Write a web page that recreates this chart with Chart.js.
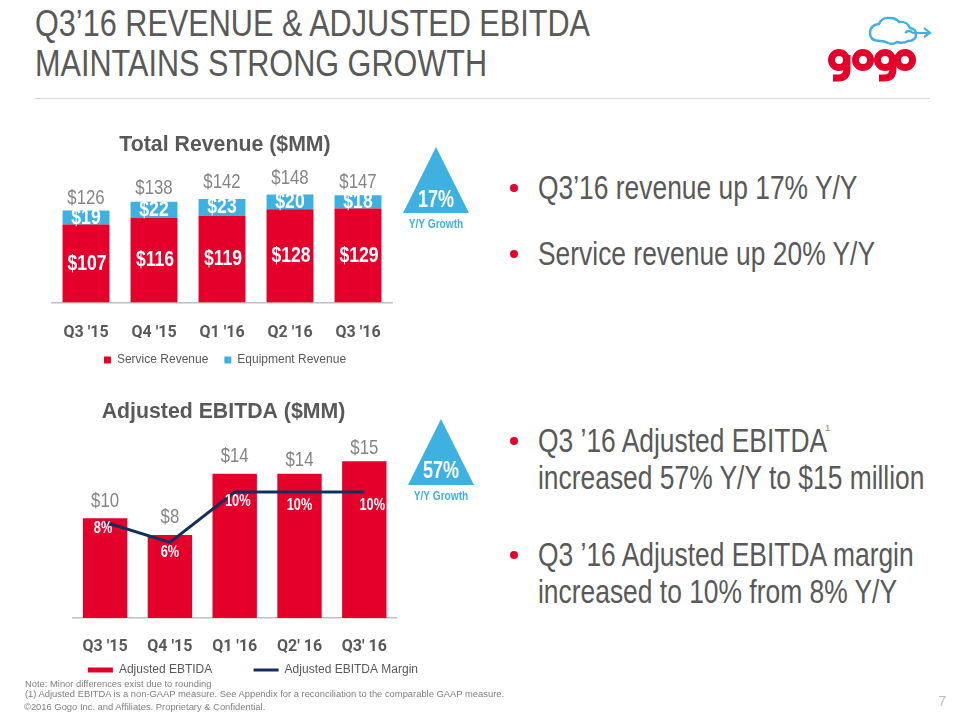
<!DOCTYPE html>
<html>
<head>
<meta charset="utf-8">
<script src="https://cdn.jsdelivr.net/npm/chart.js@4"></script>
<style>
  html, body { margin: 0; padding: 0; background: #fff; }
  #page { position: relative; width: 960px; height: 720px; overflow: hidden; font-family: "Liberation Sans", Arial, sans-serif; color: #595959; }
  #page div, #page canvas, #page svg { position: absolute; }
  .head { left: 35px; font-size: 36px; line-height: 40px; white-space: nowrap; color: #595959; transform: scaleX(0.851); transform-origin: 0 0; }
  .bullet { left: 538px; font-size: 33px; line-height: 38px; white-space: nowrap; color: #595959; transform: scaleX(0.8); transform-origin: 0 0; }
  .dot { left: 510px; width: 8px; height: 8px; border-radius: 50%; background: #e4002b; }
  .foot { font-size: 9.4px; line-height: 12px; white-space: nowrap; color: #7f7f7f; }
  .tri { font-weight: bold; text-align: center; width: 80px; transform: scaleX(0.75); }
</style>
</head>
<body>
<div id="page">
  <div class="head" style="top:4px">Q3’16 REVENUE &amp; ADJUSTED EBITDA</div>
  <div class="head" style="top:44px">MAINTAINS STRONG GROWTH</div>
  <div style="left:35px;top:98px;width:895px;height:1px;background:#d9d9d9"></div>

  <svg style="left:820px;top:10px" width="120" height="80" viewBox="820 10 120 80">
    <path d="M880 41 q-10 0 -10 -8 q0 -8 9 -9 q3 -7 11 -6 q6 0 9 4 q8 -1 11 6 q6 1 6 6 q0 7 -8 7 q-5 3 -11 1 q-4 3 -9 1 q-3 -2 -8 -2 z" fill="none" stroke="#3fb1e0" stroke-width="2.4"/>
    <path d="M905 33 q4 -4 8 0 h16 m-5 -5 l6 5 l-6 4" fill="none" stroke="#3fb1e0" stroke-width="2.2"/>
    <g fill="none" stroke="#e4002b" stroke-width="7">
      <circle cx="839" cy="60" r="7.5"/><circle cx="863" cy="60" r="7.5"/><circle cx="885" cy="60" r="7.5"/><circle cx="905" cy="60" r="7.5"/>
      <path d="M847 55 v14 q0 9 -9 9 h-5"/><path d="M893 55 v14 q0 9 -9 9 h-5"/>
    </g>
  </svg>

  <canvas id="revenueChart" width="370" height="256" style="left:40px;top:120px"></canvas>
  <canvas id="ebitdaChart" width="405" height="291" style="left:21px;top:395px"></canvas>

  <svg style="left:400px;top:145px" width="80" height="72"><polygon points="36,2 69,68 3,68" fill="#3fb1e0"/></svg>
  <div class="tri" style="left:396px;top:185px;font-size:24px;color:#fff">17%</div>
  <div class="tri" style="left:396px;top:216px;font-size:13.5px;color:#3fb1e0">Y/Y Growth</div>
  <svg style="left:405px;top:417px" width="80" height="72"><polygon points="36,2 69,68 3,68" fill="#3fb1e0"/></svg>
  <div class="tri" style="left:401px;top:456px;font-size:24px;color:#fff">57%</div>
  <div class="tri" style="left:401px;top:488px;font-size:13.5px;color:#3fb1e0">Y/Y Growth</div>

  <div class="dot" style="top:184px"></div><div class="bullet" style="top:169px">Q3’16 revenue up 17% Y/Y</div>
  <div class="dot" style="top:250px"></div><div class="bullet" style="top:235px">Service revenue up 20% Y/Y</div>
  <div class="dot" style="top:437px"></div><div class="bullet" style="top:422px">Q3 ’16 Adjusted EBITDA</div>
  <div class="foot" style="left:825px;top:422px">1</div>
  <div class="bullet" style="top:459px">increased 57% Y/Y to $15 million</div>
  <div class="dot" style="top:551px"></div><div class="bullet" style="top:536px">Q3 ’16 Adjusted EBITDA margin</div>
  <div class="bullet" style="top:573px">increased to 10% from 8% Y/Y</div>

  <div class="foot" style="left:25px;top:678px">Note: Minor differences exist due to rounding</div>
  <div class="foot" style="left:25px;top:688px">(1) Adjusted EBITDA is a non-GAAP measure. See Appendix for a reconciliation to the comparable GAAP measure.</div>
  <div class="foot" style="left:24px;top:701px">©2016 Gogo Inc. and Affiliates. Proprietary &amp; Confidential.</div>
  <div style="left:938px;top:692px;font-size:15px;color:#bfbfbf">7</div>
</div>

<script>
// Values
const revenueLabels = ["Q3 '15", "Q4 '15", "Q1 '16", "Q2 '16", "Q3 '16"];
const serviceRevenue = [107, 116, 119, 128, 129];
const equipmentRevenue = [19, 22, 23, 20, 18];
const totalRevenue = [126, 138, 142, 148, 147];

const ebitdaLabels = ["Q3 '15", "Q4 '15", "Q1 '16", "Q2' 16", "Q3' 16"];
const adjustedEbitda = [9.6, 8.0, 13.9, 13.9, 15.1];
const ebitdaText = ["$10", "$8", "$14", "$14", "$15"];
const ebitdaMargin = [7.6, 6.0, 10, 10, 10];
const marginText = ["8%", "6%", "10%", "10%", "10%"];

const RED = '#e4002b';
const BLUE = '#3fb1e0';
const NAVY = '#12305c';
const GREY = '#595959';
const LABEL_GREY = '#858585';
const FONT = '"Liberation Sans", sans-serif';

// The slide text is condensed, so squeeze it sideways
function putText(ctx, text, x, y, color, size, bold){
  ctx.save();
  ctx.translate(x, y);
  ctx.scale(0.8, 1);
  ctx.fillStyle = color;
  ctx.font = (bold ? 'bold ' : '') + size + 'px ' + FONT;
  ctx.textAlign = 'center';
  ctx.textBaseline = 'middle';
  ctx.fillText(text, 0, 0);
  ctx.restore();
}

// Writes the numbers on and above the bars
const revenueText = {
  id: 'revenueText',
  afterDatasetsDraw(chart){
    const ctx = chart.ctx;
    const service = chart.getDatasetMeta(0).data;
    const equipment = chart.getDatasetMeta(1).data;
    const totalLift = [12, 14, 17, 16, 13];
    service.forEach((bar, i) => {
      putText(ctx, '$' + serviceRevenue[i], bar.x + 1, (bar.y + bar.base) / 2, '#fff', 22, true);
      const top = equipment[i];
      putText(ctx, '$' + equipmentRevenue[i], top.x, (top.y + top.base) / 2, '#fff', 22, true);
      putText(ctx, '$' + totalRevenue[i], top.x, top.y - totalLift[i], LABEL_GREY, 21, false);
    });
  }
};

const ebitdaNumbers = {
  id: 'ebitdaNumbers',
  afterDatasetsDraw(chart){
    const ctx = chart.ctx;
    const bars = chart.getDatasetMeta(0).data;
    const line = chart.getDatasetMeta(1).data;
    const barLift = [17, 18, 18, 14, 13];
    const marginDrop = [6, 10, 10, 14, 14];
    const marginShift = [-2, 0, 3, 0, 8];
    bars.forEach((bar, i) => {
      putText(ctx, ebitdaText[i], bar.x, bar.y - barLift[i], LABEL_GREY, 21, false);
      putText(ctx, marginText[i], line[i].x + marginShift[i], line[i].y + marginDrop[i], '#fff', 16, true);
    });
  }
};

function xAxis(height, pad){
  return {
    grid: { display: false, drawTicks: false },
    border: { display: true, color: '#bfbfbf', width: 1.5 },
    ticks: { color: GREY, padding: pad, font: { family: 'Roboto', size: 16, weight: 'bold' } },
    afterFit(scale){ scale.height = height; }
  };
}

// Invisible value axis, only there to hold the plot at its place in the canvas
function hiddenAxis(position, width, max){
  return {
    position: position,
    min: 0,
    max: max,
    grid: { display: false },
    border: { display: false },
    ticks: { display: false },
    afterFit(scale){ scale.width = width; }
  };
}

new Chart(document.getElementById('revenueChart'), {
  type: 'bar',
  data: {
    labels: revenueLabels,
    datasets: [
      { label: 'Service Revenue', data: serviceRevenue, backgroundColor: RED, barPercentage: 0.69, categoryPercentage: 1, yAxisID: 'y' },
      { label: 'Equipment Revenue', data: equipmentRevenue, backgroundColor: BLUE, barPercentage: 0.69, categoryPercentage: 1, yAxisID: 'y' }
    ]
  },
  options: {
    responsive: false,
    animation: false,
    scales: {
      x: Object.assign(xAxis(35.5, 21), { stacked: true }),
      y: Object.assign(hiddenAxis('left', 12, 185), { stacked: true }),
      y1: hiddenAxis('right', 18, 185)
    },
    plugins: {
      title: { display: true, text: 'Total Revenue ($MM)', color: GREY, padding: { top: 12, bottom: 10 },
        font: { family: FONT, size: 21.3, weight: 'bold' } },
      legend: { position: 'bottom', labels: { color: GREY, boxWidth: 7, boxHeight: 7, padding: 16,
        font: { family: FONT, size: 12 } } },
      tooltip: { enabled: false }
    }
  },
  plugins: [revenueText]
});

new Chart(document.getElementById('ebitdaChart'), {
  type: 'bar',
  data: {
    labels: ebitdaLabels,
    datasets: [
      { label: 'Adjusted EBTIDA', data: adjustedEbitda, backgroundColor: RED, barPercentage: 0.685, categoryPercentage: 1, yAxisID: 'y', order: 2 },
      { label: 'Adjusted EBITDA Margin', type: 'line', data: ebitdaMargin, borderColor: NAVY, backgroundColor: NAVY, borderWidth: 3, pointRadius: 0, tension: 0, yAxisID: 'y1', order: 1 }
    ]
  },
  options: {
    responsive: false,
    animation: false,
    scales: {
      x: xAxis(38, 19.5),
      y: hiddenAxis('left', 51.7, 17),
      y1: hiddenAxis('right', 29.3, 14)
    },
    plugins: {
      title: { display: true, text: 'Adjusted EBITDA ($MM)', color: GREY, padding: { top: 4, bottom: 17 },
        font: { family: FONT, size: 21.3, weight: 'bold' } },
      legend: {
        position: 'bottom',
        align: 'end',
        labels: {
          color: GREY,
          padding: 8,
          usePointStyle: true,
          pointStyleWidth: 25,
          boxHeight: 5,
          font: { family: FONT, size: 12 },
          // both swatches are plain strokes; the no-break spaces hold the two items apart
          generateLabels(chart){
            const items = Chart.defaults.plugins.legend.labels.generateLabels(chart);
            items.sort((a, b) => a.datasetIndex - b.datasetIndex);
            return items.map((item, i) =>
              Object.assign(item, {
                text: i === 0 ? item.text + '\u00a0'.repeat(10) : item.text,
                pointStyle: 'line',
                strokeStyle: i === 0 ? RED : NAVY,
                lineWidth: i === 0 ? 5 : 3
              })
            );
          }
        }
      },
      tooltip: { enabled: false }
    }
  },
  plugins: [ebitdaNumbers]
});
</script>
</body>
</html>
